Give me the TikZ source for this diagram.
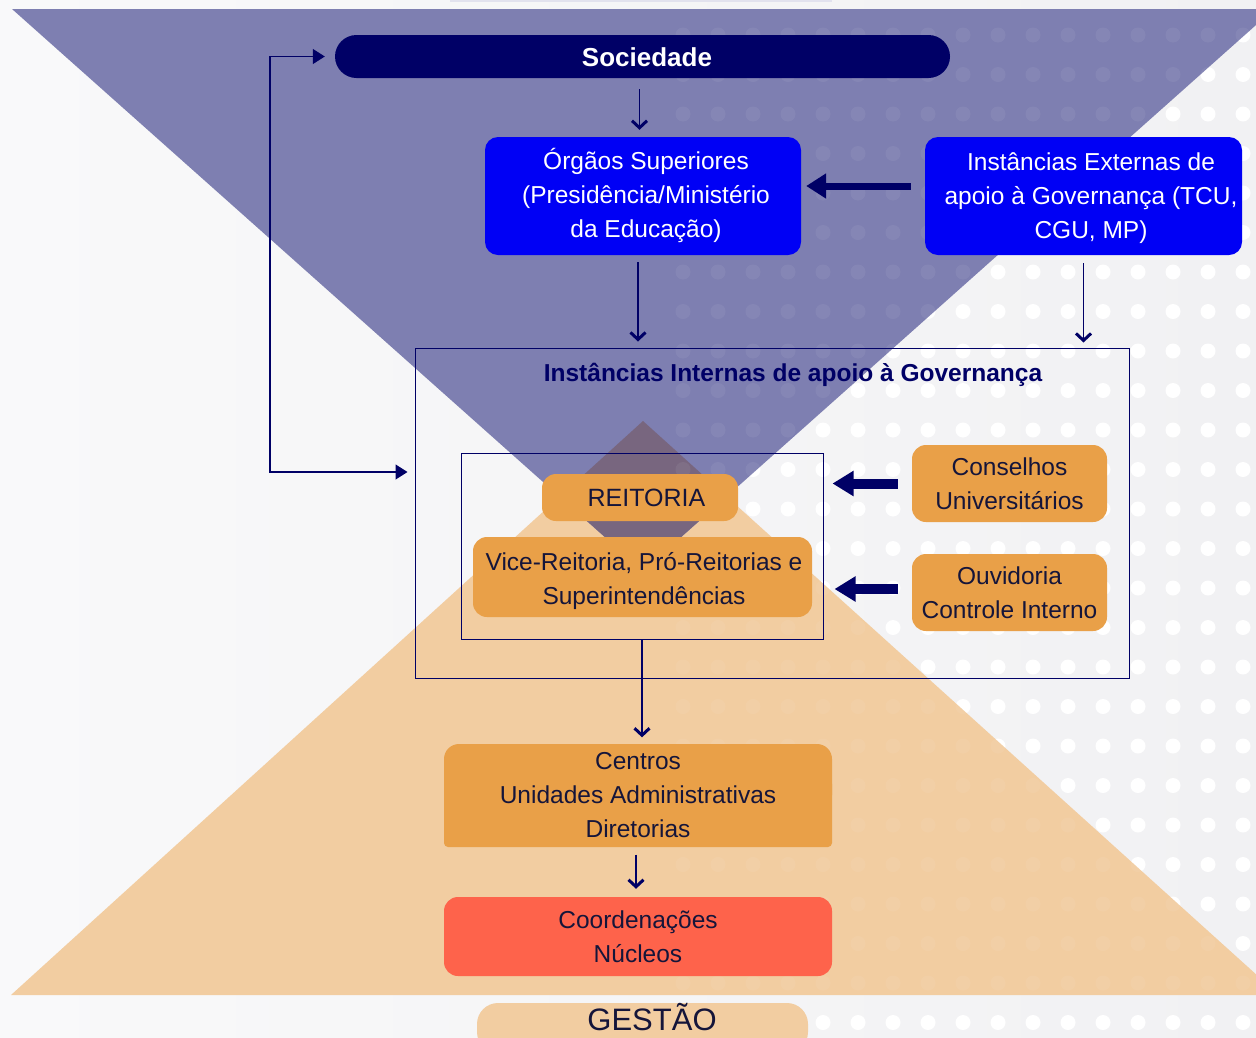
\documentclass[tikz,border=0pt]{standalone}
\usepackage{fontspec}
\setmainfont{Liberation Sans}
\usetikzlibrary{arrows.meta,calc}
\definecolor{bgL}{HTML}{F9F9FA}
\definecolor{bgR}{HTML}{F1F1F3}
\definecolor{purp}{HTML}{7E7FB1}
\definecolor{peach}{HTML}{F2CDA1}
\definecolor{overl}{HTML}{78667F}
\definecolor{navy}{HTML}{000066}
\definecolor{bluebox}{HTML}{0000F5}
\definecolor{orbox}{HTML}{E9A048}
\definecolor{redbox}{HTML}{FE634B}
\definecolor{ink}{HTML}{15153A}
\definecolor{stub}{HTML}{E2E2EE}
\begin{document}
\begin{tikzpicture}[x=1pt,y=-1pt,
  txt/.style={inner sep=0pt, align=center, font=\fontsize{24.5}{34}\selectfont},
  bbox/.style={txt, fill=bluebox, text=white, rounded corners=13pt},
  obox/.style={txt, fill=orbox, text=ink, rounded corners=14pt},
  frame/.style={draw=navy, line width=1pt, inner sep=0pt},
  thinA/.style={draw=navy, line width=1.2pt, -{Straight Barb[length=7pt,width=15pt,line width=3pt]}},
  thickA/.style={draw=navy, line width=7pt, -{Triangle[length=20pt,width=24pt]}},
  thickB/.style={draw=navy, line width=10pt, -{Triangle[length=21pt,width=24pt]}},
  loopA/.style={draw=navy, line width=1.2pt, {Triangle[length=12pt,width=15pt]}-{Triangle[length=12pt,width=15pt]}}
]
\clip (0,0) rectangle (1256,1037);
\shade[left color=bgL, right color=bgR] (0,0) rectangle (1256,1037);
% dot pattern
\foreach \i in {0,...,16} {
  \foreach \j in {0,...,25} {
    \fill[white] ({683+35*\i},{35+39.5*\j}) circle (7.5pt);
  }
}
% top stub
\fill[stub] (450,-5) rectangle (832,2);
% triangles
\fill[peach] (643,421) -- (11,995) -- (1279,995) -- cycle;
\fill[purp] (12,9) -- (1274,9) -- (643,571) -- cycle;
\begin{scope}
  \clip (643,421) -- (11,995) -- (1279,995) -- cycle;
  \fill[overl] (12,9) -- (1274,9) -- (643,571) -- cycle;
\end{scope}
% faint dots over triangles
\foreach \i in {0,...,16} {
  \foreach \j in {0,...,25} {
    \fill[white, opacity=0.06] ({683+35*\i},{35+39.5*\j}) circle (7.5pt);
  }
}

% nodes
\node (soc) [txt, fill=navy, rounded corners=21.5pt, minimum width=615pt, minimum height=43pt] at (642.5,56.5) {};
\node (soct) [txt, text=white, font=\fontsize{26}{30}\selectfont\bfseries] at (647,57) {Sociedade};
\node (org) [bbox, minimum width=316pt, minimum height=118pt] at (643,196) {};
\node (orgt) [txt, text=white] at (646,195)
  {Órgãos Superiores\\(Presidência/Ministério\\da Educação)};
\node (ext) [bbox, minimum width=317pt, minimum height=118pt] at (1083.5,196) {};
\node (extt) [txt, text=white] at (1091,198) {Instâncias Externas de\\apoio à Governança (TCU,\\CGU, MP)};

\node (intern) [frame, minimum width=714pt, minimum height=330pt] at (772,513) {};
\node (internt) [txt, text=navy, font=\fontsize{24.5}{28}\selectfont\bfseries] at (793,375)
  {Instâncias Internas de apoio à Governança};
\node (inner) [frame, minimum width=362pt, minimum height=186pt] at (642,546) {};
\node (reit) [obox, minimum width=196pt, minimum height=47pt, font=\fontsize{25}{30}\selectfont] at (640,497.5)
  {\hspace*{13pt}REITORIA};
\node (vice) [obox, minimum width=339pt, minimum height=80pt] at (642.5,577) {};
\node (vicet) [txt, text=ink] at (644,581)
  {Vice-Reitoria, Pró-Reitorias e\\Superintendências};
\node (cons) [obox, minimum width=195pt, minimum height=77pt] at (1009.5,483.5)
  {Conselhos\\Universitários};
\node (ouv) [obox, minimum width=195pt, minimum height=77pt] at (1009.5,592.5)
  {Ouvidoria\\Controle Interno};

\fill[orbox, rounded corners=15pt] (444,744) rectangle (832,810);
\fill[orbox, rounded corners=4pt] (444,780) rectangle (832,847);
\node (centros) [txt, text=ink, minimum width=388pt, minimum height=103pt] at (638,795)
  {Centros\\Unidades Administrativas\\Diretorias};
\node (coord) [txt, fill=redbox, text=ink, rounded corners=14pt, minimum width=388pt, minimum height=79pt] at (638,936.5)
  {Coordenações\\Núcleos};
\node (gest) [fill=peach, rounded corners=21pt, minimum width=331pt, minimum height=50pt, inner sep=0pt] at (642.5,1028) {};
\node (gestt) [inner sep=0pt, text=ink, font=\fontsize{31}{34}\selectfont, anchor=base] at (652,1030) {GESTÃO};

% connectors
\draw[thinA, shorten <=11pt, shorten >=7pt] ([xshift=-3pt]soc.south) -- ([xshift=-3pt]soc.south |- org.north);
\draw[thinA, shorten <=7pt, shorten >=6pt] ([xshift=-5pt]org.south) -- ([xshift=-5pt]org.south |- intern.north);
\draw[thinA, shorten <=8pt, shorten >=5pt] (ext.south) -- (ext.south |- intern.north);
\draw[thinA, shorten >=6pt] (inner.south) -- (inner.south |- centros.north);
\draw[thinA, shorten <=8pt, shorten >=8pt] ([xshift=-2pt]centros.south) -- ([xshift=-2pt]centros.south |- coord.north);

\draw[thickA, shorten <=14pt, shorten >=5pt] ([yshift=10pt]ext.west) -- ([yshift=10pt]ext.west -| org.east);
\draw[thickB, shorten <=14pt, shorten >=9pt] (cons.west) -- (cons.west -| inner.east);
\draw[thickB, shorten <=14pt, shorten >=11pt] ([yshift=3.5pt]ouv.west) -- ([yshift=3.5pt]ouv.west -| inner.east);

\coordinate (loopB) at (270,472);
\coordinate (loopT) at (270,56.5);
\coordinate (inL) at ([xshift=-7pt]intern.west);
\coordinate (socL) at ([xshift=-10pt]soc.west);
\draw[loopA] (socL |- loopT) -- (loopT) -- (loopB) -- (inL |- loopB);
\end{tikzpicture}
\end{document}
